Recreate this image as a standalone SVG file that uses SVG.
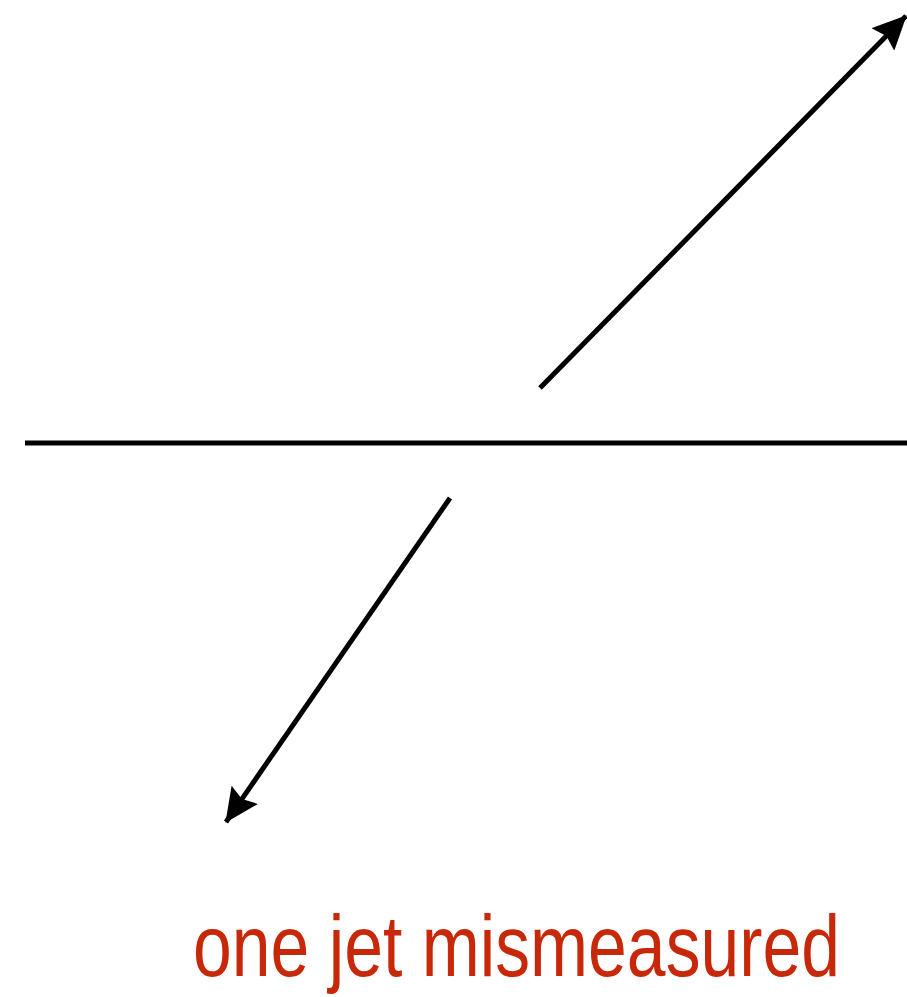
<svg xmlns="http://www.w3.org/2000/svg" width="907" height="997" viewBox="0 0 907 997">
<style>
.ln{stroke:#000;stroke-width:5;fill:none}
.lbl{font-family:"Liberation Sans",Arial,sans-serif;font-size:87px;fill:#c8280a}
</style>
<defs>
<marker id="ah" viewBox="0 0 34 32" refX="33" refY="16" markerWidth="34" markerHeight="32" markerUnits="userSpaceOnUse" orient="auto">
<path d="M0,0 L34,16 L0,32 L5,16 Z" fill="#000"/>
</marker>
</defs>
<rect width="907" height="997" fill="#fff"/>
<g id="axis">
<line class="ln" x1="25" y1="443" x2="907" y2="443"/>
</g>
<g id="connectors">
<line class="ln" x1="540" y1="388" x2="906" y2="16" marker-end="url(#ah)"/>
<line class="ln" x1="450" y1="498" x2="226" y2="822" marker-end="url(#ah)"/>
</g>
<g id="label">
<text class="lbl" x="193" y="976" textLength="647" lengthAdjust="spacingAndGlyphs">one jet mismeasured</text>
</g>
</svg>
